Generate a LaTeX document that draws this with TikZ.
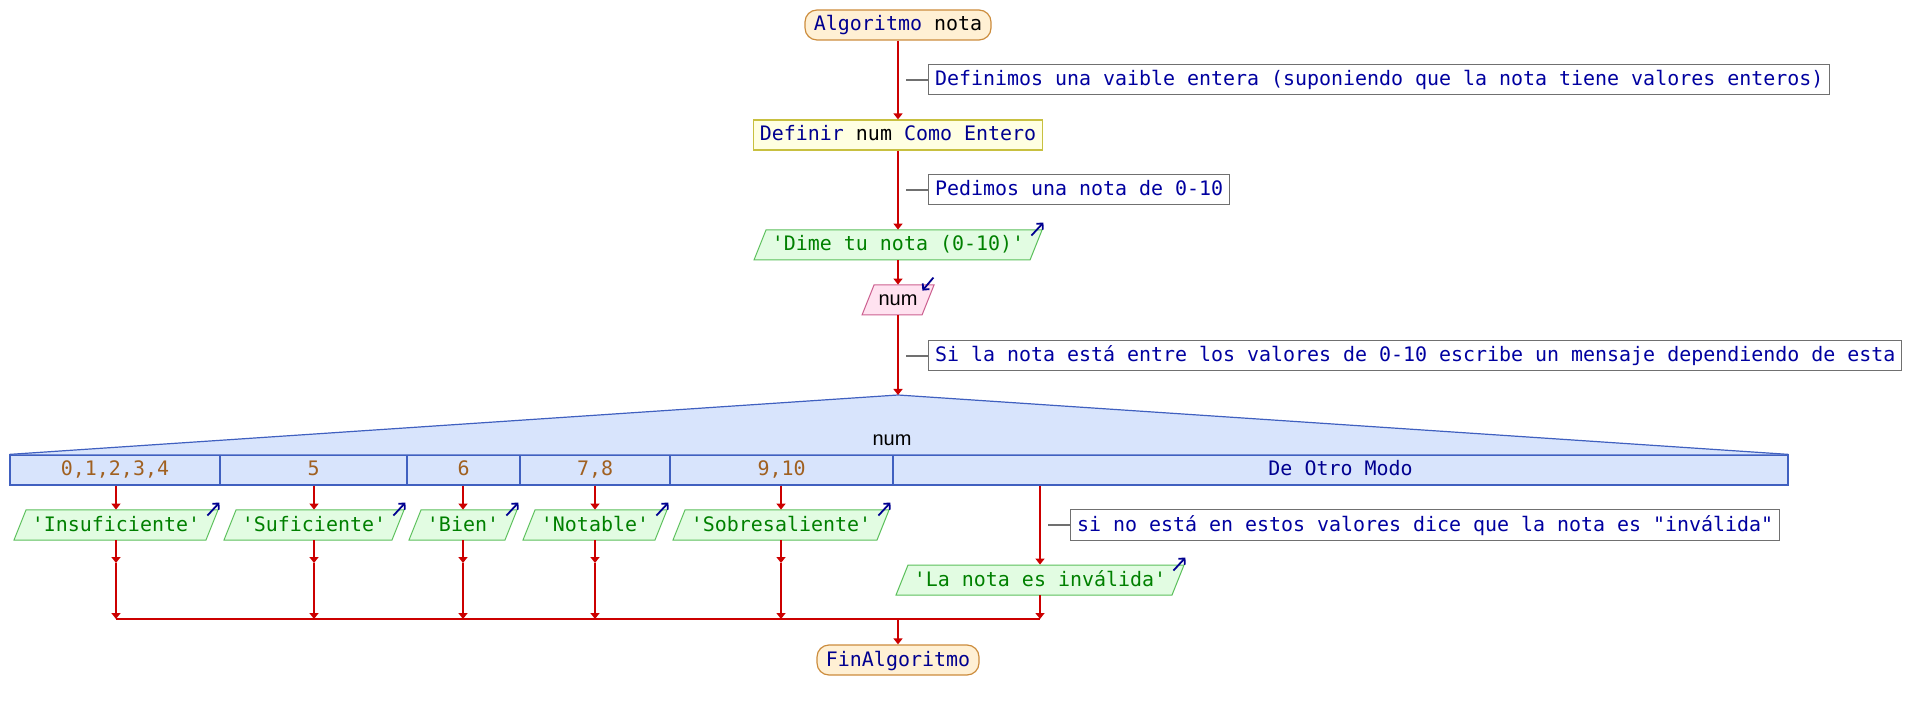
\documentclass[tikz,border=0pt]{standalone}
\usepackage{fontspec}
\newfontfamily\monof{DejaVu Sans Mono}[Ligatures=TeXOff]
\newfontfamily\sansf{Liberation Sans}
\usetikzlibrary{arrows.meta}
\definecolor{fred}{HTML}{CC0000}
\definecolor{kw}{HTML}{000090}
\definecolor{termfill}{HTML}{FFF0D4}
\definecolor{termdraw}{HTML}{CC8C3C}
\definecolor{deffill}{HTML}{FFFFE2}
\definecolor{defdraw}{HTML}{C8C040}
\definecolor{cmdraw}{HTML}{707070}
\definecolor{cmtext}{HTML}{0000A0}
\definecolor{outfill}{HTML}{E2FCE2}
\definecolor{outdraw}{HTML}{5CC05C}
\definecolor{outtext}{HTML}{008000}
\definecolor{infill}{HTML}{FFE2F0}
\definecolor{indraw}{HTML}{CC6090}
\definecolor{swfill}{HTML}{D8E4FC}
\definecolor{swdraw}{HTML}{4060C0}
\definecolor{casetext}{HTML}{A06020}
\definecolor{iconc}{HTML}{000090}
\tikzset{
  mono/.style={font=\monof\fontsize{9.97pt}{12pt}\selectfont},
  txt/.style={mono, inner sep=0pt, text height=8pt, text depth=2pt, minimum height=15pt},
  flowline/.style={draw=fred, line width=1.1pt},
  flow/.style={flowline, -{Triangle[width=4.5pt,length=3pt]}},
  term/.style={txt, draw=termdraw, fill=termfill, line width=0.6pt, rounded corners=6pt, text=kw},
  defbox/.style={txt, draw=defdraw, fill=deffill, line width=0.6pt, text=kw},
  cmt/.style={txt, draw=cmdraw, fill=white, line width=0.5pt, text=cmtext, inner xsep=3.25pt, anchor=west},
  stub/.style={draw=cmdraw, line width=1.1pt},
  out shape/.style={draw=outdraw, fill=outfill, line width=0.5pt},
  out text/.style={txt, text=outtext},
  in shape/.style={draw=indraw, fill=infill, line width=0.5pt},
  in text/.style={inner sep=0pt, minimum height=15pt, font=\sansf\fontsize{10pt}{12pt}\selectfont, text=black},
  swtri/.style={fill=swfill},
  swedge/.style={draw=swdraw, line width=0.6pt},
  cell/.style={txt, draw=swdraw, fill=swfill, line width=0.6pt, text=casetext},
  swlabel/.style={inner sep=0pt, font=\sansf\fontsize{10pt}{12pt}\selectfont, text=black},
  iconout/.style={draw=iconc, line width=0.9pt, -{Straight Barb[length=2.2pt,width=4.4pt]}},
  iconin/.style={draw=iconc, line width=0.9pt, -{Straight Barb[length=2.2pt,width=4.4pt]}},
}
% #1 name, #2 cx, #3 cy, #4 half width (px), #5 kind, #6 text
\newcommand\ioshape[6]{%
  \path[#5 shape] (#2-#4-6,#3+15) -- (#2-#4+6,#3-15) -- (#2+#4+6,#3-15) -- (#2+#4-6,#3+15) -- cycle;
  \node[#5 text, minimum width=#4pt] (#1) at (#2,#3) {#6};
}
\begin{document}
\begin{tikzpicture}[x=0.5pt,y=-0.5pt]
\useasboundingbox (0,0) rectangle (1910,710);

% main trunk nodes
\node[term, minimum width=93pt] (start) at (898,25) {Algoritmo \textcolor{black}{nota}};
\node[defbox, minimum width=144.5pt] (def) at (898,135) {Definir \textcolor{black}{num} Como Entero};
\ioshape{dime}{898}{245}{138}{out}{'Dime tu nota (0-10)'}
\ioshape{inp}{898}{300}{30}{in}{num}

% comments
\node[cmt] (cm1) at (928,80) {Definimos una vaible entera (suponiendo que la nota tiene valores enteros)};
\node[cmt] (cm2) at (928,190) {Pedimos una nota de 0-10};
\node[cmt] (cm3) at (928,356) {Si la nota está entre los valores de 0-10 escribe un mensaje dependiendo de esta};
\node[cmt] (cm4) at (1070,525) {si no está en estos valores dice que la nota es "inválida"};
\foreach \c in {cm1,cm2,cm3,cm4} \draw[stub] ([xshift=-11pt]\c.west) -- (\c.west);

% switch
\coordinate (swtop) at (898,395);
\node[cell, minimum width=105pt] (c1) at (115,470) {0,1,2,3,4};
\node[cell, minimum width=93.5pt] (c2) at (313.5,470) {5};
\node[cell, minimum width=56.5pt] (c3) at (463.5,470) {6};
\node[cell, minimum width=75pt] (c4) at (595,470) {7,8};
\node[cell, minimum width=111.5pt] (c5) at (781.5,470) {9,10};
\node[cell, minimum width=447.5pt, text=kw] (c6) at (1340.5,470) {De Otro Modo};
\fill[swtri] (c1.north west) -- (swtop) -- (c6.north east) -- cycle;
\draw[swedge] (c1.north west) -- (swtop) -- (c6.north east);
\node[swlabel] (swvar) at (892,440) {num};

% outputs
\ioshape{o1}{116}{525}{96}{out}{'Insuficiente'}
\ioshape{o2}{314}{525}{84}{out}{'Suficiente'}
\ioshape{o3}{463}{525}{48}{out}{'Bien'}
\ioshape{o4}{595}{525}{66}{out}{'Notable'}
\ioshape{o5}{781}{525}{102}{out}{'Sobresaliente'}
\ioshape{o6}{1040}{580}{138}{out}{'La nota es inválida'}

% end
\node[term, minimum width=81pt] (fin) at (898,660) {FinAlgoritmo};

% trunk connectors
\draw[flow] (start.south) -- (def.north);
\draw[flow] (def.south) -- (dime.north);
\draw[flow] (dime.south) -- (inp.north);
\draw[flow] (inp.south) -- (swtop);

% branches
\foreach \i/\x in {1/116,2/314,3/463,4/595,5/781}{
  \coordinate (e\i) at (\x,563);
  \coordinate (m\i) at (\x,619);
  \draw[flow] (c\i.south -| o\i.north) -- (o\i.north);
  \draw[flow] (o\i.south) -- (e\i);
  \draw[flow] (e\i) -- (m\i);
}
\coordinate (m6) at (1040,619);
\draw[flow] (c6.south -| o6.north) -- (o6.north);
\draw[flow] (o6.south) -- (m6);
\coordinate (join) at (898,619);
\draw[flowline] (m1) -- (m6);
\draw[flow] (join) -- (fin.north);

% icons
\foreach \n in {dime,o1,o2,o3,o4,o5,o6}
  \draw[iconout] ([xshift=-2.5pt,yshift=-3pt]\n.north east) -- ([xshift=3.5pt,yshift=3.5pt]\n.north east);
\draw[iconin] ([xshift=2.5pt,yshift=3.5pt]inp.north east) -- ([xshift=-3pt,yshift=-3pt]inp.north east);
\end{tikzpicture}
\end{document}
